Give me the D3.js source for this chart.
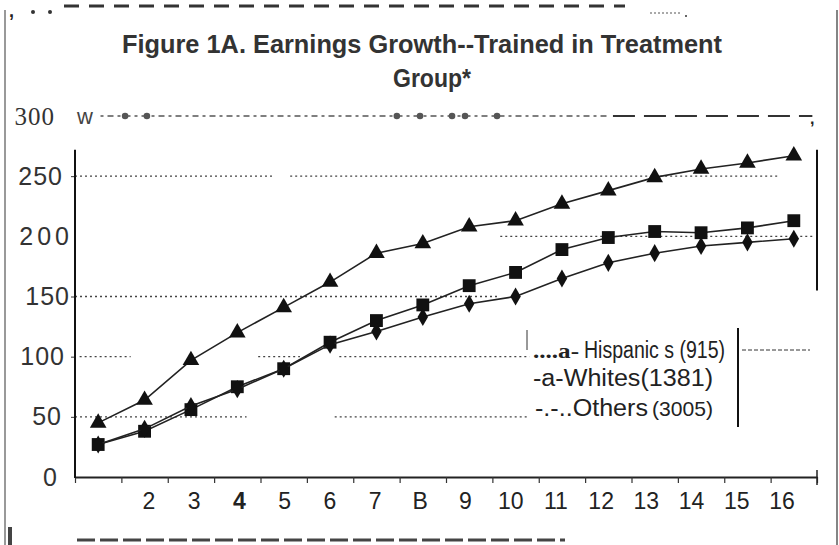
<!DOCTYPE html>
<html>
<head>
<meta charset="utf-8">
<script src="https://cdn.jsdelivr.net/npm/d3@7"></script>
<style>
  body { margin: 0; background: #fff; }
  svg { display: block; }
  text { font-family: "Liberation Sans", Arial, sans-serif; fill: #222; }
</style>
</head>
<body>
<svg id="chart" width="839" height="545"></svg>
<script>
// Hodnoty (16 období)
const periods = d3.range(1, 17);
const xLabels = ['', '2', '3', '4', '5', '6', '7', 'B', '9', '10', '11', '12', '13', '14', '15', '16'];
const yTicks = [0, 50, 100, 150, 200, 250, 300];

const triangles = [45, 64, 97, 120, 141, 162, 186, 194, 208, 213, 227, 238, 249, 256, 261, 267];
const squares = [27, 38, 56, 75, 90, 112, 130, 143, 159, 170, 189, 199, 204, 203, 207, 213];
const diamonds = [27, 40, 59, 73, 90, 110, 121, 133, 144, 150, 165, 178, 186, 192, 195, 198];

const legendRows = ['Hispanic s (915)', '-a-Whites(1381)', '-.-..Others'];

const svg = d3.select('#chart');

const x = d3.scaleLinear().domain([0, 16]).range([75, 817]);
const y = d3.scaleLinear().domain([0, 300]).range([477, 116]);
// popisky osy x jsou ve skenu mírně posunuté
const xl = d3.scaleLinear().domain([2, 16]).range([149, 782]);

// --- rámeček (artefakty skenu) ---
const frame = svg.append('g');
frame.append('line').attr('x1', 5).attr('x2', 5).attr('y1', 10).attr('y2', 545)
    .attr('stroke', '#777').attr('stroke-width', 1.5);
frame.append('line').attr('x1', 837).attr('x2', 837).attr('y1', 10).attr('y2', 545)
    .attr('stroke', '#333').attr('stroke-width', 1.2);
frame.append('line').attr('x1', 64).attr('x2', 625).attr('y1', 6).attr('y2', 6)
    .attr('stroke', '#333').attr('stroke-width', 3).attr('stroke-dasharray', '15,10');
frame.append('text').attr('x', 9).attr('y', 17).style('font-size', '18px').style('font-weight', 'bold').text(',');
[33, 50].forEach(cx => frame.append('circle').attr('cx', cx).attr('cy', 12).attr('r', 2).attr('fill', '#333'));
frame.append('line').attr('x1', 650).attr('x2', 682).attr('y1', 13).attr('y2', 13)
    .attr('stroke', '#555').attr('stroke-width', 1.2).attr('stroke-dasharray', '2,2');
frame.append('circle').attr('cx', 686).attr('cy', 16).attr('r', 1).attr('fill', '#333');
frame.append('line').attr('x1', 77).attr('x2', 565).attr('y1', 540).attr('y2', 540)
    .attr('stroke', '#444').attr('stroke-width', 3).attr('stroke-dasharray', '18,5');
frame.append('rect').attr('x', 8).attr('y', 527).attr('width', 4).attr('height', 18).attr('fill', '#444');

// --- nadpis ---
svg.append('text').attr('x', 422).attr('y', 53).attr('text-anchor', 'middle')
    .style('font-size', '26px').style('font-weight', 'bold').style('fill', '#333')
    .attr('textLength', 600).attr('lengthAdjust', 'spacingAndGlyphs')
    .text('Figure 1A. Earnings Growth--Trained in Treatment');
svg.append('text').attr('x', 432).attr('y', 87).attr('text-anchor', 'middle')
    .style('font-size', '26px').style('font-weight', 'bold').style('fill', '#333')
    .attr('textLength', 78).attr('lengthAdjust', 'spacingAndGlyphs')
    .text('Group*');

// --- mřížka (tečkovaná, přerušovaná) ---
const grid = svg.append('g').attr('stroke', '#444').attr('stroke-width', 1.3).attr('stroke-dasharray', '2,3');
const gridSegments = [
    [250, 0, 4.3], [250, 4.64, 15.2],
    [200, 9.17, 15.9],
    [150, 0, 9.1],
    [100, 0.1, 1.2], [100, 3.95, 4.85], [100, 5.7, 9.8],
    [50, 0, 3.7], [50, 5.6, 9.8]
];
grid.selectAll('line').data(gridSegments).enter().append('line')
    .attr('x1', d => x(d[1])).attr('x2', d => x(d[2]))
    .attr('y1', d => y(d[0])).attr('y2', d => y(d[0]));

// horní řádek 300
const top300 = svg.append('g');
top300.append('text').attr('x', 77).attr('y', 124).style('font-size', '22px').style('fill', '#444').text('w');
top300.append('line').attr('x1', x(0.55)).attr('x2', x(11.5)).attr('y1', y(300)).attr('y2', y(300))
    .attr('stroke', '#555').attr('stroke-width', 1.5).attr('stroke-dasharray', '3,4,6,4');
top300.append('line').attr('x1', x(11.6)).attr('x2', x(15.9)).attr('y1', y(300)).attr('y2', y(300))
    .attr('stroke', '#333').attr('stroke-width', 1.8).attr('stroke-dasharray', '22,9');
top300.selectAll('circle').data([1.08, 1.55, 6.94, 7.44, 8.13, 8.41, 9.1]).enter().append('circle')
    .attr('cx', d => x(d)).attr('cy', y(300)).attr('r', 3.3).attr('fill', '#555');
top300.append('text').attr('x', 810).attr('y', 124).style('font-size', '16px').style('font-weight', 'bold').text(',');

// --- osy ---
const xAxis = svg.append('g').attr('transform', `translate(0,${y(0)})`)
    .call(d3.axisBottom(x).tickValues(d3.range(0, 17)).tickFormat('').tickSize(6).tickSizeOuter(0));
xAxis.select('.domain').attr('stroke', '#222').attr('stroke-width', 2);
xAxis.selectAll('.tick line').attr('stroke', '#333').attr('stroke-width', 1.2);
svg.append('line').attr('x1', x(16)).attr('x2', x(16)).attr('y1', y(0) - 7).attr('y2', y(0) + 8)
    .attr('stroke', '#222').attr('stroke-width', 1.5);

svg.selectAll('.xlab').data(periods).enter().append('text')
    .attr('class', 'xlab')
    .attr('x', d => xl(d)).attr('y', 509).attr('text-anchor', 'middle')
    .style('font-size', '23px').style('font-weight', d => d === 4 ? 'bold' : 'normal')
    .text((d, i) => xLabels[i]);

// posuny popisků osy y podle skenu
const yLabelShift = { 0: -7, 50: -3, 100: 0, 150: 5, 200: 8, 250: -2, 300: -10 };
const yAxis = svg.append('g').attr('transform', `translate(${x(0)},0)`)
    .call(d3.axisLeft(y).tickValues(yTicks).tickSize(4).tickPadding(6));
yAxis.select('.domain').remove();
yAxis.selectAll('.tick line').attr('stroke', d => (d === 0 || d === 300 || d === 200) ? 'none' : '#333');
yAxis.selectAll('.tick text')
    .style('font-size', '25px')
    .style('letter-spacing', d => d === 200 ? '4px' : '1px').style('fill', '#333')
    .style('font-family', d => d === 300 ? '"Liberation Serif", serif' : '"Liberation Sans", sans-serif')
    .attr('dx', d => yLabelShift[d]);
svg.append('line').attr('x1', x(0)).attr('x2', x(0)).attr('y1', y(272)).attr('y2', y(0) + 1)
    .attr('stroke', '#111').attr('stroke-width', 2);

// pravá vnitřní svislá čára
svg.append('line').attr('x1', x(16)).attr('x2', x(16)).attr('y1', y(272)).attr('y2', y(155))
    .attr('stroke', '#111').attr('stroke-width', 2);

// --- řady ---
const line = d3.line().x((d, i) => x(i + 0.5)).y(d => y(d));
const series = [
    { values: triangles, symbol: d3.symbolTriangle, size: 120 },
    { values: squares, symbol: d3.symbolSquare, size: 165 },
    { values: diamonds, symbol: d3.symbolDiamond, size: 95 }
];

series.forEach(s => {
    svg.append('path').datum(s.values).attr('d', line)
        .attr('fill', 'none').attr('stroke', '#222').attr('stroke-width', 1.6);
    svg.selectAll(null).data(s.values).enter().append('path')
        .attr('d', d3.symbol().type(s.symbol).size(s.size))
        .attr('transform', (d, i) => `translate(${x(i + 0.5)},${y(d)})`)
        .attr('fill', '#111');
});

// --- legenda ---
const legend = svg.append('g');
legend.append('line').attr('x1', 738).attr('x2', 738).attr('y1', 328).attr('y2', 427)
    .attr('stroke', '#111').attr('stroke-width', 2);
legend.append('line').attr('x1', 527).attr('x2', 527).attr('y1', 330).attr('y2', 350)
    .attr('stroke', '#333').attr('stroke-width', 1);
legend.append('line').attr('x1', 742).attr('x2', 810).attr('y1', 350).attr('y2', 350)
    .attr('stroke', '#333').attr('stroke-width', 1).attr('stroke-dasharray', '4,2');

legend.append('text').attr('x', 533).attr('y', 358)
    .style('font-family', '"Liberation Serif", serif').style('font-weight', 'bold').style('font-size', '22px')
    .attr('textLength', 46).attr('lengthAdjust', 'spacingAndGlyphs')
    .text('....a-');
legend.append('text').attr('x', 584).attr('y', 358).style('font-size', '23px')
    .attr('textLength', 141).attr('lengthAdjust', 'spacingAndGlyphs')
    .text(legendRows[0]);
legend.append('text').attr('x', 533).attr('y', 386).style('font-size', '23px')
    .attr('textLength', 180).attr('lengthAdjust', 'spacingAndGlyphs')
    .text(legendRows[1]);
legend.append('text').attr('x', 535).attr('y', 416).style('font-size', '23px')
    .attr('textLength', 113).attr('lengthAdjust', 'spacingAndGlyphs')
    .text(legendRows[2]);
legend.append('text').attr('x', 652).attr('y', 416).style('font-size', '21px')
    .attr('textLength', 61).attr('lengthAdjust', 'spacingAndGlyphs')
    .text('(3005)');
</script>
</body>
</html>
